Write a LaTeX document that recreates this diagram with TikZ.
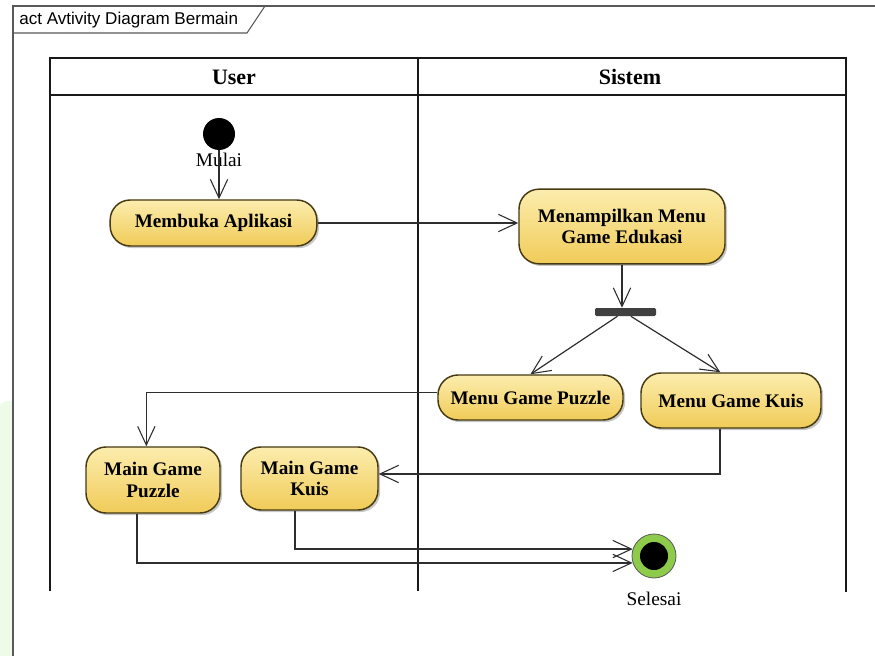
\documentclass[tikz,border=0pt]{standalone}
\usepackage{fontspec}
\setmainfont{Liberation Serif}
\newfontfamily\titlefont{Liberation Sans}
\usetikzlibrary{arrows.meta,shadows}

\definecolor{actfillA}{HTML}{FCEDAE}
\definecolor{actfillB}{HTML}{F0CB58}
\definecolor{actline}{HTML}{463A12}
\definecolor{flowline}{HTML}{2E2E2E}
\definecolor{endgreen}{HTML}{8FCB4A}
\definecolor{wmgreen}{HTML}{EDFBE8}

\tikzset{
  action/.style={draw=actline, line width=1.1pt, rounded corners=15pt,
    top color=actfillA, bottom color=actfillB, align=center,
    font=\fontsize{14.4}{16.4}\selectfont\bfseries, inner sep=0pt,
    drop shadow={shadow xshift=1.6pt, shadow yshift=-1.6pt, opacity=0.22, fill=black}},
  flow/.style={draw=flowline, line width=0.9pt,
    -{Straight Barb[length=14pt,width=13pt,line width=0.8pt]}},
  lane/.style={draw=black!90, line width=1.2pt},
  lanehead/.style={font=\fontsize{16.5}{18}\selectfont\bfseries},
  caption/.style={font=\fontsize{14.5}{16}\selectfont, inner sep=0pt}
}

\begin{document}
\begin{tikzpicture}[x=0.75pt,y=-0.75pt]
  \useasboundingbox (0,0) rectangle (875,656);
  \fill[white] (0,0) rectangle (875,656);

  % faint watermark tint at the left edge
  \fill[wmgreen] (0,405) .. controls (6,400) and (10,400) .. (12,402) -- (12,656) -- (0,656) -- cycle;

  % diagram frame and name tab
  \draw[gray!70!black, line width=0.8pt] (875,6) -- (13,6) -- (13,656);
  \draw[gray!70!black, line width=0.8pt] (13,33) -- (247,33) -- (265,6);
  \node[font=\titlefont\fontsize{12.8}{14}\selectfont, anchor=west, inner sep=0pt] (title) at (19,20) {act Avtivity Diagram Bermain};

  % swimlanes
  \draw[lane] (50,591) -- (50,58) -- (846,58) -- (846,592);
  \draw[lane] (418,58) -- (418,591);
  \draw[lane] (50,95) -- (846,95);
  \node[lanehead] (userhead) at (234,77) {User};
  \node[lanehead] (sysHead) at (630,77) {Sistem};

  % start node
  \node[circle, fill=black, minimum size=24pt, inner sep=0pt] (start) at (219,134) {};
  \node[caption] (mulai) at (219,160) {Mulai};

  % actions
  \node[action, minimum width=155pt, minimum height=34.5pt] (mb) at (213.5,223) {Membuka Aplikasi};
  \node[action, minimum width=154.5pt, minimum height=56pt] (mt) at (622,226.5) {Menampilkan Menu\\Game Edukasi};
  \node[fill=black!75, minimum width=45.75pt, minimum height=6pt, inner sep=0pt, rounded corners=1pt] (fork) at (625.5,312) {};
  \node[action, minimum width=138.75pt, minimum height=33.75pt] (mp) at (530.5,397.5) {Menu Game Puzzle};
  \node[action, minimum width=135pt, minimum height=41.25pt] (mk) at (731,400.5) {Menu Game Kuis};
  \node[action, minimum width=100.5pt, minimum height=49.5pt] (gp) at (153,480) {Main Game\\Puzzle};
  \node[action, minimum width=102.75pt, minimum height=47.25pt] (gk) at (309.5,478.5) {Main Game\\Kuis};

  % end node
  \node[circle, draw=black!65, line width=0.6pt, fill=endgreen, minimum size=33pt, inner sep=0pt] (final) at (654,556) {};
  \node[circle, fill=black, minimum size=21pt, inner sep=0pt] (finalcore) at (final.center) {};
  \node[caption] (selesai) at (654,599) {Selesai};

  % control flows
  \draw[flow] (start.south) -- (start.south |- mb.north);
  \draw[flow] (mb.east) -- (mb.east -| mt.west);
  \draw[flow] (mt.south) -- (mt.south |- fork.north);
  \draw[flow] ([xshift=-6pt]fork.south) -- (mp.north);
  \draw[flow] ([xshift=4pt]fork.south) -- ([xshift=-8pt]mk.north);
  \draw[flow] ([yshift=4pt]mp.west) -| ([xshift=-5pt]gp.north);
  \draw[flow] ([xshift=-8.25pt]mk.south) |- ([yshift=3.4pt]gk.east);
  \draw[flow] ([xshift=-12pt]gp.south) |- (final.198);
  \draw[flow] ([xshift=-10.9pt]gk.south) |- (final.162);
\end{tikzpicture}
\end{document}
